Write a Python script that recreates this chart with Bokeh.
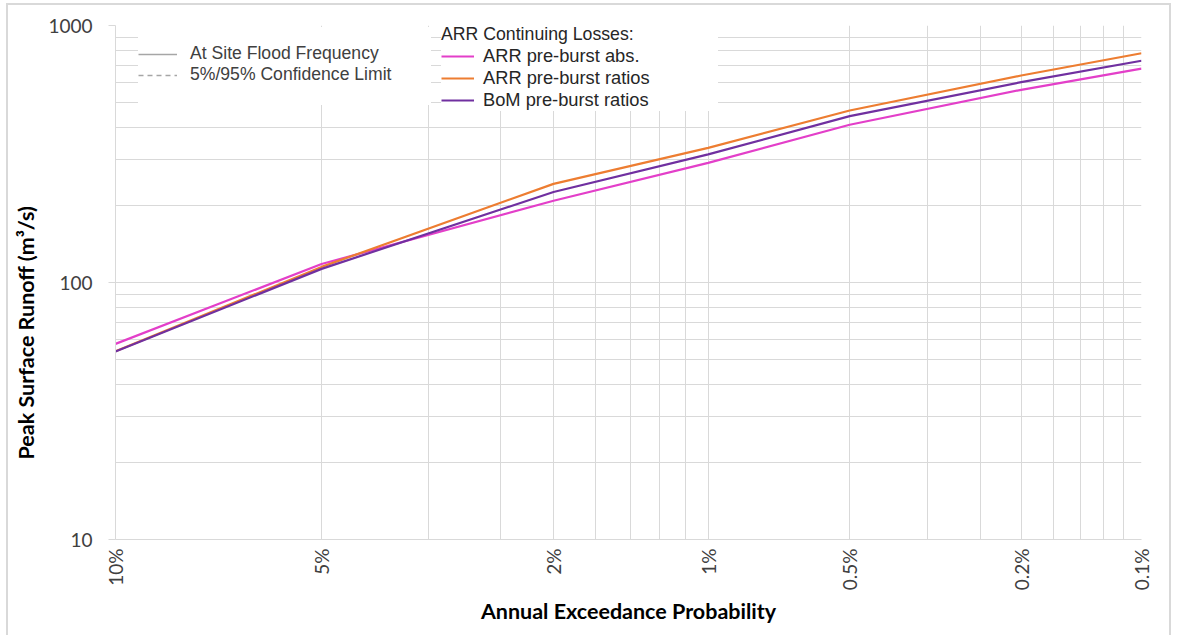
from statistics import NormalDist
from bokeh.plotting import figure
from bokeh.models import FixedTicker, Legend, LegendItem, Range1d, Title
from bokeh.embed import file_html
from bokeh.resources import INLINE

# ---- data ----
aep_pct = [10, 5, 2, 1, 0.5, 0.2, 0.1]
arr_abs = [57.7, 118, 208, 292, 411, 562, 680]
arr_ratios = [54, 115, 242, 334, 467, 639, 780]
bom_ratios = [53.9, 113, 225, 315, 444, 602, 729]

x_tick_aep = [10, 5, 2, 1, 0.5, 0.2, 0.1]
x_tick_labels = ["10%", "5%", "2%", "1%", "0.5%", "0.2%", "0.1%"]
x_minor_ari = [30, 40, 60, 70, 80, 90, 300, 400, 600, 700, 800, 900]

y_ticks = [10, 100, 1000]
y_tick_labels = ["10", "100", "1000"]
y_minor = [20, 30, 40, 50, 60, 70, 80, 90, 200, 300, 400, 500, 600, 700, 800, 900]

nd = NormalDist()


def zq(p):
    """normal-probability position of an AEP given in percent"""
    return nd.inv_cdf(1 - p / 100.0)


FONT = "Lato"
LEG_FONT = "Liberation Sans"
GRID = "#d9d9d9"
NAN = float("nan")

p = figure(width=1173, height=635, output_backend="svg", toolbar_location=None,
           x_range=Range1d(zq(x_tick_aep[0]), zq(x_tick_aep[-1])),
           y_range=Range1d(y_ticks[0], y_ticks[-1]), y_axis_type="log",
           min_border_left=115, min_border_right=32, min_border_top=25,
           min_border_bottom=96)
p.outline_line_color = None
p.background_fill_color = "white"
p.border_fill_color = "white"
p.border_fill_alpha = 0
# light outer border of the chart (left, top, right edges)
p.styles = {
    "background-color": "white",
    "background-image": ("linear-gradient(#d9d9d9,#d9d9d9),"
                         "linear-gradient(#d9d9d9,#d9d9d9),"
                         "linear-gradient(#d9d9d9,#d9d9d9)"),
    "background-size": "2px 100%, 1165px 2px, 2px 100%",
    "background-position": "6px 3px, 6px 3px, 1169px 3px",
    "background-repeat": "no-repeat",
}

xt = FixedTicker(ticks=[zq(t) for t in x_tick_aep],
                 minor_ticks=[zq(100.0 / a) for a in x_minor_ari])
yt = FixedTicker(ticks=y_ticks, minor_ticks=y_minor)
p.xaxis.ticker = xt
p.xgrid.ticker = xt
p.yaxis.ticker = yt
p.ygrid.ticker = yt

for g in (p.xgrid, p.ygrid):
    g.grid_line_color = GRID
    g.grid_line_width = 1
    g.minor_grid_line_color = GRID
    g.minor_grid_line_width = 1

p.xaxis.major_label_overrides = {zq(t): lab for t, lab in zip(x_tick_aep, x_tick_labels)}
p.yaxis.major_label_overrides = {t: lab for t, lab in zip(y_ticks, y_tick_labels)}
p.xaxis.major_label_orientation = 3.14159265 / 2

for ax in (p.xaxis, p.yaxis):
    ax.axis_line_color = GRID
    ax.axis_line_width = 1
    ax.major_tick_line_color = GRID
    ax.minor_tick_line_color = None
    ax.major_tick_in = 0
    ax.minor_tick_in = 0
    ax.minor_tick_out = 0
    ax.major_label_text_font = FONT
    ax.major_label_text_font_size = "19px"
    ax.major_label_text_color = "#404040"
    ax.axis_label_text_font = FONT
    ax.axis_label_text_font_size = "21.5px"
    ax.axis_label_text_font_style = "bold"
    ax.axis_label_text_color = "#000000"

p.xaxis.major_tick_out = 0
p.xaxis.major_label_standoff = 9
p.xaxis.axis_label_standoff = 5
p.yaxis.major_tick_out = 7
p.yaxis.major_label_standoff = 16

p.xaxis.axis_label = "Annual Exceedance Probability"

# y-axis title, placed a little below the frame centre as in the reference
ytitle = Title(text="Peak Surface Runoff (m³/s)", align="left", offset=80,
               text_font=FONT, text_font_size="21.5px", text_font_style="bold",
               text_color="#000000", standoff=14)
p.add_layout(ytitle, "left")

xs = [zq(a) for a in aep_pct]
r_abs = p.line(xs, arr_abs, line_color="#e33fc9", line_width=2.2)
r_rat = p.line(xs, arr_ratios, line_color="#ed7d31", line_width=2.2)
r_bom = p.line(xs, bom_ratios, line_color="#7030a0", line_width=2.2)

# legend-only series (nothing drawn in the chart area)
r_site = p.line([NAN], [NAN], line_color="#a6a6a6", line_width=1.5)
r_conf = p.line([NAN], [NAN], line_color="#a6a6a6", line_width=1.5, line_dash="5 4")
r_blank = p.line([NAN], [NAN], line_alpha=0)

common = dict(background_fill_color="white", background_fill_alpha=1.0,
              border_line_color=None, padding=5, spacing=0,
              label_height=20, glyph_height=20, title_standoff=0,
              title_text_font_style="normal")

left_leg = Legend(items=[LegendItem(label="At Site Flood Frequency", renderers=[r_site]),
                         LegendItem(label="5%/95% Confidence Limit", renderers=[r_conf]),
                         LegendItem(label=" ", renderers=[r_blank])],
                  location=(23, 434), title=" ", title_text_font_size="14px",
                  glyph_width=39, label_standoff=13, label_width=241,
                  label_text_font=LEG_FONT, label_text_font_size="17.6px",
                  label_text_color="#404040", **common)

right_leg = Legend(items=[LegendItem(label="ARR pre-burst abs.", renderers=[r_abs]),
                          LegendItem(label="ARR pre-burst ratios", renderers=[r_rat]),
                          LegendItem(label="BoM pre-burst ratios", renderers=[r_bom])],
                   location=(326, 428), title="ARR Continuing Losses:",
                   title_text_font=LEG_FONT, title_text_font_size="17.7px",
                   title_text_color="#262626", title_text_line_height=1.45,
                   glyph_width=33, label_standoff=9, label_width=235,
                   label_text_font=LEG_FONT, label_text_font_size="18.3px",
                   label_text_color="#262626", **common)

p.add_layout(left_leg, "center")
p.add_layout(right_leg, "center")

open("out.html", "w").write(file_html(p, INLINE))
